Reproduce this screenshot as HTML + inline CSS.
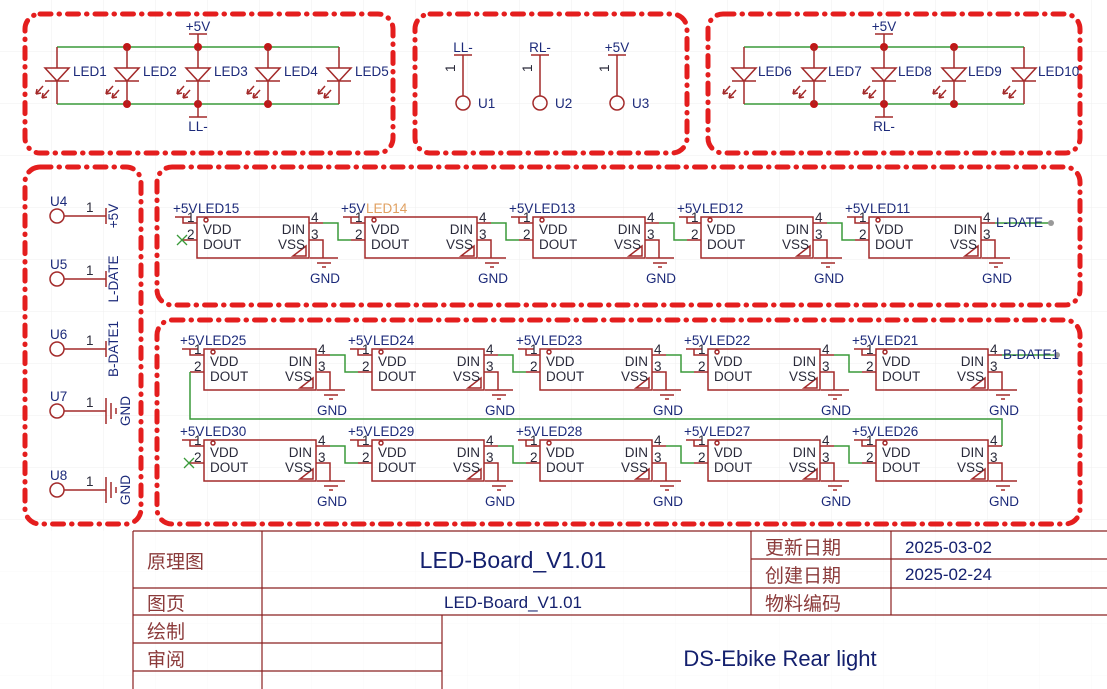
<!DOCTYPE html>
<html><head><meta charset="utf-8"><style>
html,body{margin:0;padding:0;background:#fff;}
svg{display:block;}
text{font-family:"Liberation Sans","Noto Sans CJK SC",sans-serif;}
.t{fill:#1c2a7a;font-size:13.5px;}
.p{fill:#2a2a3a;font-size:13.5px;}
.r{stroke:#a32a2a;stroke-width:1.5;fill:none;}
.g{stroke:#3a9a3a;stroke-width:1.5;fill:none;}
.b{fill:none;stroke:#e41e1e;stroke-width:5;stroke-dasharray:11 8 0.5 8;stroke-linecap:round;}
.tb{stroke:#8b2020;stroke-width:1.2;}
.cn{fill:#8b3a3a;font-size:19px;}
</style></head><body>
<svg width="1107" height="689" viewBox="0 0 1107 689" xmlns="http://www.w3.org/2000/svg">
<defs>
<pattern id="grid" width="52" height="52" patternUnits="userSpaceOnUse"><path d="M52 0V52H0" fill="none" stroke="#efefef" stroke-width="1"/></pattern>
</defs>
<rect width="1107" height="689" fill="url(#grid)"/>

<rect class="b" x="25" y="14" width="368" height="139" rx="15"/>
<rect class="b" x="415" y="14" width="272" height="139" rx="15"/>
<rect class="b" x="708" y="14" width="372" height="139" rx="15"/>
<rect class="b" x="25" y="167" width="116" height="357" rx="15"/>
<rect class="b" x="157" y="167" width="923" height="138" rx="15"/>
<rect class="b" x="157" y="320" width="923" height="204" rx="15"/>

<!-- Box1 LEDs -->
<path class="g" d="M57 47H339M57 104H339"/>
<line class="r" x1="198" y1="34" x2="198" y2="47"/><line class="r" x1="189" y1="34" x2="207" y2="34"/>
<line class="r" x1="198" y1="104" x2="198" y2="117"/><line class="r" x1="189" y1="117" x2="207" y2="117"/>
<text class="t" x="198" y="31" text-anchor="middle">+5V</text>
<text class="t" x="198" y="131" text-anchor="middle">LL-</text>
<g fill="#c01818"><circle cx="127" cy="47" r="4"/><circle cx="198" cy="47" r="4"/><circle cx="268" cy="47" r="4"/><circle cx="127" cy="104" r="4"/><circle cx="198" cy="104" r="4"/><circle cx="268" cy="104" r="4"/></g>
<g transform="translate(57,0)"><path class="r" d="M0 47V68M0 81V104M-12 68H12L0 81Z M-12 81H12 M-14 86L-21 94M-21 94l5 -1M-21 94l1 -5 M-8 90L-15 98M-15 98l5 -1M-15 98l1 -5"/><text class="t" x="16" y="76" font-size="14">LED1</text></g>
<g transform="translate(127,0)"><path class="r" d="M0 47V68M0 81V104M-12 68H12L0 81Z M-12 81H12 M-14 86L-21 94M-21 94l5 -1M-21 94l1 -5 M-8 90L-15 98M-15 98l5 -1M-15 98l1 -5"/><text class="t" x="16" y="76" font-size="14">LED2</text></g>
<g transform="translate(198,0)"><path class="r" d="M0 47V68M0 81V104M-12 68H12L0 81Z M-12 81H12 M-14 86L-21 94M-21 94l5 -1M-21 94l1 -5 M-8 90L-15 98M-15 98l5 -1M-15 98l1 -5"/><text class="t" x="16" y="76" font-size="14">LED3</text></g>
<g transform="translate(268,0)"><path class="r" d="M0 47V68M0 81V104M-12 68H12L0 81Z M-12 81H12 M-14 86L-21 94M-21 94l5 -1M-21 94l1 -5 M-8 90L-15 98M-15 98l5 -1M-15 98l1 -5"/><text class="t" x="16" y="76" font-size="14">LED4</text></g>
<g transform="translate(339,0)"><path class="r" d="M0 47V68M0 81V104M-12 68H12L0 81Z M-12 81H12 M-14 86L-21 94M-21 94l5 -1M-21 94l1 -5 M-8 90L-15 98M-15 98l5 -1M-15 98l1 -5"/><text class="t" x="16" y="76" font-size="14">LED5</text></g>

<!-- Box3 LEDs -->
<path class="g" d="M744 47H1024M744 104H1024"/>
<line class="r" x1="884" y1="34" x2="884" y2="47"/><line class="r" x1="875" y1="34" x2="893" y2="34"/>
<line class="r" x1="884" y1="104" x2="884" y2="117"/><line class="r" x1="875" y1="117" x2="893" y2="117"/>
<text class="t" x="884" y="31" text-anchor="middle">+5V</text>
<text class="t" x="884" y="131" text-anchor="middle">RL-</text>
<g fill="#c01818"><circle cx="814" cy="47" r="4"/><circle cx="884" cy="47" r="4"/><circle cx="954" cy="47" r="4"/><circle cx="814" cy="104" r="4"/><circle cx="884" cy="104" r="4"/><circle cx="954" cy="104" r="4"/></g>
<g transform="translate(744,0)"><path class="r" d="M0 47V68M0 81V104M-12 68H12L0 81Z M-12 81H12 M-14 86L-21 94M-21 94l5 -1M-21 94l1 -5 M-8 90L-15 98M-15 98l5 -1M-15 98l1 -5"/><text class="t" x="14" y="76" font-size="14">LED6</text></g>
<g transform="translate(814,0)"><path class="r" d="M0 47V68M0 81V104M-12 68H12L0 81Z M-12 81H12 M-14 86L-21 94M-21 94l5 -1M-21 94l1 -5 M-8 90L-15 98M-15 98l5 -1M-15 98l1 -5"/><text class="t" x="14" y="76" font-size="14">LED7</text></g>
<g transform="translate(884,0)"><path class="r" d="M0 47V68M0 81V104M-12 68H12L0 81Z M-12 81H12 M-14 86L-21 94M-21 94l5 -1M-21 94l1 -5 M-8 90L-15 98M-15 98l5 -1M-15 98l1 -5"/><text class="t" x="14" y="76" font-size="14">LED8</text></g>
<g transform="translate(954,0)"><path class="r" d="M0 47V68M0 81V104M-12 68H12L0 81Z M-12 81H12 M-14 86L-21 94M-21 94l5 -1M-21 94l1 -5 M-8 90L-15 98M-15 98l5 -1M-15 98l1 -5"/><text class="t" x="14" y="76" font-size="14">LED9</text></g>
<g transform="translate(1024,0)"><path class="r" d="M0 47V68M0 81V104M-12 68H12L0 81Z M-12 81H12 M-14 86L-21 94M-21 94l5 -1M-21 94l1 -5 M-8 90L-15 98M-15 98l5 -1M-15 98l1 -5"/><text class="t" x="14" y="76" font-size="14">LED10</text></g>

<!-- Box2 connectors -->
<g transform="translate(463,0)"><text class="t" x="0" y="52" text-anchor="middle">LL-</text><path class="r" d="M-9 55H9M0 55V96"/><circle class="r" cx="0" cy="103" r="7"/><text class="p" x="-8" y="72" font-size="11" transform="rotate(-90 -8 72)">1</text><text class="t" x="15" y="108">U1</text></g>
<g transform="translate(540,0)"><text class="t" x="0" y="52" text-anchor="middle">RL-</text><path class="r" d="M-9 55H9M0 55V96"/><circle class="r" cx="0" cy="103" r="7"/><text class="p" x="-8" y="72" font-size="11" transform="rotate(-90 -8 72)">1</text><text class="t" x="15" y="108">U2</text></g>
<g transform="translate(617,0)"><text class="t" x="0" y="52" text-anchor="middle">+5V</text><path class="r" d="M-9 55H9M0 55V96"/><circle class="r" cx="0" cy="103" r="7"/><text class="p" x="-8" y="72" font-size="11" transform="rotate(-90 -8 72)">1</text><text class="t" x="15" y="108">U3</text></g>

<!-- Left connectors -->
<g transform="translate(0,216)"><circle class="r" cx="57" cy="0" r="7"/><path class="r" d="M64 0H106M106 -8V8"/><text class="p" x="86" y="-4">1</text><text class="t" x="50" y="-10">U4</text><text class="t" x="0" y="0" text-anchor="middle" transform="translate(118,0) rotate(-90)">+5V</text></g>
<g transform="translate(0,279)"><circle class="r" cx="57" cy="0" r="7"/><path class="r" d="M64 0H106M106 -8V8"/><text class="p" x="86" y="-4">1</text><text class="t" x="50" y="-10">U5</text><text class="t" x="0" y="0" text-anchor="middle" transform="translate(118,0) rotate(-90)">L-DATE</text></g>
<g transform="translate(0,349)"><circle class="r" cx="57" cy="0" r="7"/><path class="r" d="M64 0H106M106 -8V8"/><text class="p" x="86" y="-4">1</text><text class="t" x="50" y="-10">U6</text><text class="t" x="0" y="0" text-anchor="middle" transform="translate(118,0) rotate(-90)">B-DATE1</text></g>
<g transform="translate(0,411)"><circle class="r" cx="57" cy="0" r="7"/><path class="r" d="M64 0H106M106 -13V13M111 -8V8M116 -3V3"/><text class="p" x="86" y="-4">1</text><text class="t" x="50" y="-10">U7</text><text class="t" x="0" y="0" text-anchor="middle" transform="translate(130,0) rotate(-90)">GND</text></g>
<g transform="translate(0,490)"><circle class="r" cx="57" cy="0" r="7"/><path class="r" d="M64 0H106M106 -13V13M111 -8V8M116 -3V3"/><text class="p" x="86" y="-4">1</text><text class="t" x="50" y="-10">U8</text><text class="t" x="0" y="0" text-anchor="middle" transform="translate(130,0) rotate(-90)">GND</text></g>

<!-- middle row -->
<g transform="translate(197,217)"><rect class="r" x="0" y="0" width="112" height="41"/><text class="t" x="-24" y="-4">+5V</text><text class="t" x="1" y="-4">LED15</text><path class="r" d="M-22 0H-6M-14 0V6H0M-14 23H0M112 6H126M112 23H126V41M113 41H141M120 46H134M125 50H129M96 39H109V29Z"/><circle class="r" cx="9" cy="3" r="2" stroke-width="1"/><text class="p" x="-10" y="5">1</text><text class="p" x="-10" y="22">2</text><text class="p" x="114" y="5">4</text><text class="p" x="114" y="22">3</text><text class="p" x="6" y="17">VDD</text><text class="p" x="6" y="32">DOUT</text><text class="p" x="108" y="17" text-anchor="end">DIN</text><text class="p" x="108" y="32" text-anchor="end">VSS</text><text class="t" x="128" y="66" text-anchor="middle">GND</text><path class="g" d="M126 6H141V23H154"/><path d="M-20 18l10 10M-20 28l10 -10" stroke="#3a9a3a" stroke-width="1.3"/></g>
<g transform="translate(365,217)"><rect class="r" x="0" y="0" width="112" height="41"/><text class="t" x="-24" y="-4">+5V</text><text x="1" y="-4" font-size="13.5" fill="#e0a060">LED14</text><path class="r" d="M-22 0H-6M-14 0V6H0M-14 23H0M112 6H126M112 23H126V41M113 41H141M120 46H134M125 50H129M96 39H109V29Z"/><circle class="r" cx="9" cy="3" r="2" stroke-width="1"/><text class="p" x="-10" y="5">1</text><text class="p" x="-10" y="22">2</text><text class="p" x="114" y="5">4</text><text class="p" x="114" y="22">3</text><text class="p" x="6" y="17">VDD</text><text class="p" x="6" y="32">DOUT</text><text class="p" x="108" y="17" text-anchor="end">DIN</text><text class="p" x="108" y="32" text-anchor="end">VSS</text><text class="t" x="128" y="66" text-anchor="middle">GND</text><path class="g" d="M126 6H141V23H154"/></g>
<g transform="translate(533,217)"><rect class="r" x="0" y="0" width="112" height="41"/><text class="t" x="-24" y="-4">+5V</text><text class="t" x="1" y="-4">LED13</text><path class="r" d="M-22 0H-6M-14 0V6H0M-14 23H0M112 6H126M112 23H126V41M113 41H141M120 46H134M125 50H129M96 39H109V29Z"/><circle class="r" cx="9" cy="3" r="2" stroke-width="1"/><text class="p" x="-10" y="5">1</text><text class="p" x="-10" y="22">2</text><text class="p" x="114" y="5">4</text><text class="p" x="114" y="22">3</text><text class="p" x="6" y="17">VDD</text><text class="p" x="6" y="32">DOUT</text><text class="p" x="108" y="17" text-anchor="end">DIN</text><text class="p" x="108" y="32" text-anchor="end">VSS</text><text class="t" x="128" y="66" text-anchor="middle">GND</text><path class="g" d="M126 6H141V23H154"/></g>
<g transform="translate(701,217)"><rect class="r" x="0" y="0" width="112" height="41"/><text class="t" x="-24" y="-4">+5V</text><text class="t" x="1" y="-4">LED12</text><path class="r" d="M-22 0H-6M-14 0V6H0M-14 23H0M112 6H126M112 23H126V41M113 41H141M120 46H134M125 50H129M96 39H109V29Z"/><circle class="r" cx="9" cy="3" r="2" stroke-width="1"/><text class="p" x="-10" y="5">1</text><text class="p" x="-10" y="22">2</text><text class="p" x="114" y="5">4</text><text class="p" x="114" y="22">3</text><text class="p" x="6" y="17">VDD</text><text class="p" x="6" y="32">DOUT</text><text class="p" x="108" y="17" text-anchor="end">DIN</text><text class="p" x="108" y="32" text-anchor="end">VSS</text><text class="t" x="128" y="66" text-anchor="middle">GND</text><path class="g" d="M126 6H141V23H154"/></g>
<g transform="translate(869,217)"><rect class="r" x="0" y="0" width="112" height="41"/><text class="t" x="-24" y="-4">+5V</text><text class="t" x="1" y="-4">LED11</text><path class="r" d="M-22 0H-6M-14 0V6H0M-14 23H0M112 6H126M112 23H126V41M113 41H141M120 46H134M125 50H129M96 39H109V29Z"/><circle class="r" cx="9" cy="3" r="2" stroke-width="1"/><text class="p" x="-10" y="5">1</text><text class="p" x="-10" y="22">2</text><text class="p" x="114" y="5">4</text><text class="p" x="114" y="22">3</text><text class="p" x="6" y="17">VDD</text><text class="p" x="6" y="32">DOUT</text><text class="p" x="108" y="17" text-anchor="end">DIN</text><text class="p" x="108" y="32" text-anchor="end">VSS</text><text class="t" x="128" y="66" text-anchor="middle">GND</text><path class="g" d="M126 6H182"/><circle cx="182" cy="6" r="3" fill="#999"/><text class="t" x="127" y="10">L-DATE</text></g>

<!-- bottom row 1 -->
<g transform="translate(204,349)"><rect class="r" x="0" y="0" width="112" height="41"/><text class="t" x="-24" y="-4">+5V</text><text class="t" x="1" y="-4">LED25</text><path class="r" d="M-22 0H-6M-14 0V6H0M-14 23H0M112 6H126M112 23H126V41M113 41H141M120 46H134M125 50H129M96 39H109V29Z"/><circle class="r" cx="9" cy="3" r="2" stroke-width="1"/><text class="p" x="-10" y="5">1</text><text class="p" x="-10" y="22">2</text><text class="p" x="114" y="5">4</text><text class="p" x="114" y="22">3</text><text class="p" x="6" y="17">VDD</text><text class="p" x="6" y="32">DOUT</text><text class="p" x="108" y="17" text-anchor="end">DIN</text><text class="p" x="108" y="32" text-anchor="end">VSS</text><text class="t" x="128" y="66" text-anchor="middle">GND</text><path class="g" d="M126 6H141V23H154"/></g>
<g transform="translate(372,349)"><rect class="r" x="0" y="0" width="112" height="41"/><text class="t" x="-24" y="-4">+5V</text><text class="t" x="1" y="-4">LED24</text><path class="r" d="M-22 0H-6M-14 0V6H0M-14 23H0M112 6H126M112 23H126V41M113 41H141M120 46H134M125 50H129M96 39H109V29Z"/><circle class="r" cx="9" cy="3" r="2" stroke-width="1"/><text class="p" x="-10" y="5">1</text><text class="p" x="-10" y="22">2</text><text class="p" x="114" y="5">4</text><text class="p" x="114" y="22">3</text><text class="p" x="6" y="17">VDD</text><text class="p" x="6" y="32">DOUT</text><text class="p" x="108" y="17" text-anchor="end">DIN</text><text class="p" x="108" y="32" text-anchor="end">VSS</text><text class="t" x="128" y="66" text-anchor="middle">GND</text><path class="g" d="M126 6H141V23H154"/></g>
<g transform="translate(540,349)"><rect class="r" x="0" y="0" width="112" height="41"/><text class="t" x="-24" y="-4">+5V</text><text class="t" x="1" y="-4">LED23</text><path class="r" d="M-22 0H-6M-14 0V6H0M-14 23H0M112 6H126M112 23H126V41M113 41H141M120 46H134M125 50H129M96 39H109V29Z"/><circle class="r" cx="9" cy="3" r="2" stroke-width="1"/><text class="p" x="-10" y="5">1</text><text class="p" x="-10" y="22">2</text><text class="p" x="114" y="5">4</text><text class="p" x="114" y="22">3</text><text class="p" x="6" y="17">VDD</text><text class="p" x="6" y="32">DOUT</text><text class="p" x="108" y="17" text-anchor="end">DIN</text><text class="p" x="108" y="32" text-anchor="end">VSS</text><text class="t" x="128" y="66" text-anchor="middle">GND</text><path class="g" d="M126 6H141V23H154"/></g>
<g transform="translate(708,349)"><rect class="r" x="0" y="0" width="112" height="41"/><text class="t" x="-24" y="-4">+5V</text><text class="t" x="1" y="-4">LED22</text><path class="r" d="M-22 0H-6M-14 0V6H0M-14 23H0M112 6H126M112 23H126V41M113 41H141M120 46H134M125 50H129M96 39H109V29Z"/><circle class="r" cx="9" cy="3" r="2" stroke-width="1"/><text class="p" x="-10" y="5">1</text><text class="p" x="-10" y="22">2</text><text class="p" x="114" y="5">4</text><text class="p" x="114" y="22">3</text><text class="p" x="6" y="17">VDD</text><text class="p" x="6" y="32">DOUT</text><text class="p" x="108" y="17" text-anchor="end">DIN</text><text class="p" x="108" y="32" text-anchor="end">VSS</text><text class="t" x="128" y="66" text-anchor="middle">GND</text><path class="g" d="M126 6H141V23H154"/></g>
<g transform="translate(876,349)"><rect class="r" x="0" y="0" width="112" height="41"/><text class="t" x="-24" y="-4">+5V</text><text class="t" x="1" y="-4">LED21</text><path class="r" d="M-22 0H-6M-14 0V6H0M-14 23H0M112 6H126M112 23H126V41M113 41H141M120 46H134M125 50H129M96 39H109V29Z"/><circle class="r" cx="9" cy="3" r="2" stroke-width="1"/><text class="p" x="-10" y="5">1</text><text class="p" x="-10" y="22">2</text><text class="p" x="114" y="5">4</text><text class="p" x="114" y="22">3</text><text class="p" x="6" y="17">VDD</text><text class="p" x="6" y="32">DOUT</text><text class="p" x="108" y="17" text-anchor="end">DIN</text><text class="p" x="108" y="32" text-anchor="end">VSS</text><text class="t" x="128" y="66" text-anchor="middle">GND</text><path class="g" d="M126 6H181"/><circle cx="181" cy="6" r="3" fill="#999"/><text class="t" x="127" y="10">B-DATE1</text></g>

<path class="g" d="M190 372V419H1002V446"/>

<!-- bottom row 2 -->
<g transform="translate(204,440)"><rect class="r" x="0" y="0" width="112" height="41"/><text class="t" x="-24" y="-4">+5V</text><text class="t" x="1" y="-4">LED30</text><path class="r" d="M-22 0H-6M-14 0V6H0M-14 23H0M112 6H126M112 23H126V41M113 41H141M120 46H134M125 50H129M96 39H109V29Z"/><circle class="r" cx="9" cy="3" r="2" stroke-width="1"/><text class="p" x="-10" y="5">1</text><text class="p" x="-10" y="22">2</text><text class="p" x="114" y="5">4</text><text class="p" x="114" y="22">3</text><text class="p" x="6" y="17">VDD</text><text class="p" x="6" y="32">DOUT</text><text class="p" x="108" y="17" text-anchor="end">DIN</text><text class="p" x="108" y="32" text-anchor="end">VSS</text><text class="t" x="128" y="66" text-anchor="middle">GND</text><path class="g" d="M126 6H141V23H154"/><path d="M-20 18l10 10M-20 28l10 -10" stroke="#3a9a3a" stroke-width="1.3"/></g>
<g transform="translate(372,440)"><rect class="r" x="0" y="0" width="112" height="41"/><text class="t" x="-24" y="-4">+5V</text><text class="t" x="1" y="-4">LED29</text><path class="r" d="M-22 0H-6M-14 0V6H0M-14 23H0M112 6H126M112 23H126V41M113 41H141M120 46H134M125 50H129M96 39H109V29Z"/><circle class="r" cx="9" cy="3" r="2" stroke-width="1"/><text class="p" x="-10" y="5">1</text><text class="p" x="-10" y="22">2</text><text class="p" x="114" y="5">4</text><text class="p" x="114" y="22">3</text><text class="p" x="6" y="17">VDD</text><text class="p" x="6" y="32">DOUT</text><text class="p" x="108" y="17" text-anchor="end">DIN</text><text class="p" x="108" y="32" text-anchor="end">VSS</text><text class="t" x="128" y="66" text-anchor="middle">GND</text><path class="g" d="M126 6H141V23H154"/></g>
<g transform="translate(540,440)"><rect class="r" x="0" y="0" width="112" height="41"/><text class="t" x="-24" y="-4">+5V</text><text class="t" x="1" y="-4">LED28</text><path class="r" d="M-22 0H-6M-14 0V6H0M-14 23H0M112 6H126M112 23H126V41M113 41H141M120 46H134M125 50H129M96 39H109V29Z"/><circle class="r" cx="9" cy="3" r="2" stroke-width="1"/><text class="p" x="-10" y="5">1</text><text class="p" x="-10" y="22">2</text><text class="p" x="114" y="5">4</text><text class="p" x="114" y="22">3</text><text class="p" x="6" y="17">VDD</text><text class="p" x="6" y="32">DOUT</text><text class="p" x="108" y="17" text-anchor="end">DIN</text><text class="p" x="108" y="32" text-anchor="end">VSS</text><text class="t" x="128" y="66" text-anchor="middle">GND</text><path class="g" d="M126 6H141V23H154"/></g>
<g transform="translate(708,440)"><rect class="r" x="0" y="0" width="112" height="41"/><text class="t" x="-24" y="-4">+5V</text><text class="t" x="1" y="-4">LED27</text><path class="r" d="M-22 0H-6M-14 0V6H0M-14 23H0M112 6H126M112 23H126V41M113 41H141M120 46H134M125 50H129M96 39H109V29Z"/><circle class="r" cx="9" cy="3" r="2" stroke-width="1"/><text class="p" x="-10" y="5">1</text><text class="p" x="-10" y="22">2</text><text class="p" x="114" y="5">4</text><text class="p" x="114" y="22">3</text><text class="p" x="6" y="17">VDD</text><text class="p" x="6" y="32">DOUT</text><text class="p" x="108" y="17" text-anchor="end">DIN</text><text class="p" x="108" y="32" text-anchor="end">VSS</text><text class="t" x="128" y="66" text-anchor="middle">GND</text><path class="g" d="M126 6H141V23H154"/></g>
<g transform="translate(876,440)"><rect class="r" x="0" y="0" width="112" height="41"/><text class="t" x="-24" y="-4">+5V</text><text class="t" x="1" y="-4">LED26</text><path class="r" d="M-22 0H-6M-14 0V6H0M-14 23H0M112 6H126M112 23H126V41M113 41H141M120 46H134M125 50H129M96 39H109V29Z"/><circle class="r" cx="9" cy="3" r="2" stroke-width="1"/><text class="p" x="-10" y="5">1</text><text class="p" x="-10" y="22">2</text><text class="p" x="114" y="5">4</text><text class="p" x="114" y="22">3</text><text class="p" x="6" y="17">VDD</text><text class="p" x="6" y="32">DOUT</text><text class="p" x="108" y="17" text-anchor="end">DIN</text><text class="p" x="108" y="32" text-anchor="end">VSS</text><text class="t" x="128" y="66" text-anchor="middle">GND</text></g>

<!-- title block -->
<rect x="0" y="531" width="1107" height="158" fill="#fff" opacity="0.6"/>
<g class="tb">
<line x1="133" y1="531" x2="1107" y2="531"/>
<line x1="133" y1="531" x2="133" y2="689"/>
<line x1="262" y1="531" x2="262" y2="689"/>
<line x1="442" y1="615" x2="442" y2="689"/>
<line x1="751" y1="531" x2="751" y2="615"/>
<line x1="891" y1="531" x2="891" y2="615"/>
<line x1="751" y1="559" x2="1107" y2="559"/>
<line x1="133" y1="588" x2="1107" y2="588"/>
<line x1="133" y1="615" x2="1107" y2="615"/>
<line x1="133" y1="643" x2="442" y2="643"/>
<line x1="133" y1="671" x2="442" y2="671"/>
</g>
<text class="cn" x="147" y="568">原理图</text>
<text class="cn" x="147" y="610">图页</text>
<text class="cn" x="147" y="638">绘制</text>
<text class="cn" x="147" y="666">审阅</text>
<text class="cn" x="765" y="554">更新日期</text>
<text class="cn" x="765" y="582">创建日期</text>
<text class="cn" x="765" y="610">物料编码</text>
<text x="513" y="568" text-anchor="middle" font-size="23" fill="#14206e">LED-Board_V1.01</text>
<text x="513" y="608" text-anchor="middle" font-size="17" fill="#14206e">LED-Board_V1.01</text>
<text x="905" y="553" font-size="17" fill="#14206e">2025-03-02</text>
<text x="905" y="580" font-size="17" fill="#14206e">2025-02-24</text>
<text x="780" y="666" text-anchor="middle" font-size="22" fill="#14206e">DS-Ebike Rear light</text>
</svg>
</body></html>
